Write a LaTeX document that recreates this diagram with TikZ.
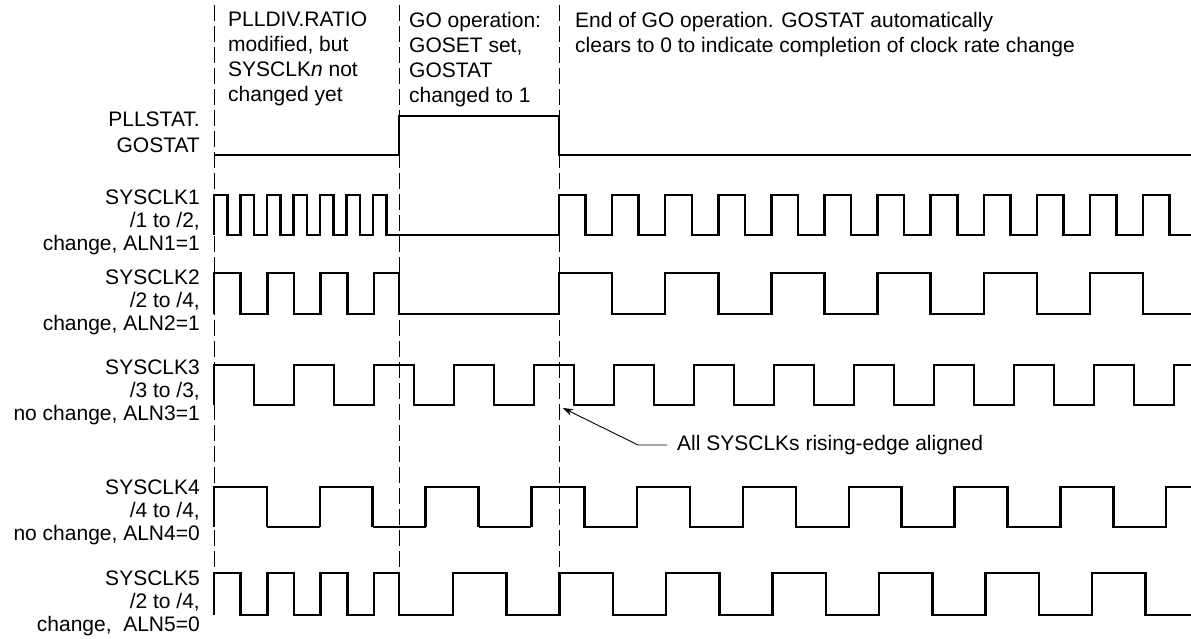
\documentclass[tikz,border=0pt]{standalone}
\usepackage{fontspec}
\setmainfont{Liberation Sans}
\usetikzlibrary{arrows.meta}
\begin{document}
\begin{tikzpicture}[x=1pt,y=-1pt,
  wave/.style={line width=2.5pt, line join=miter},
  thinwave/.style={line width=1.3pt},
  guide/.style={line width=1pt, dash pattern=on 16pt off 5pt},
  lbl/.style={font=\fontsize{21}{23}\selectfont, align=right, anchor=north east, inner sep=0pt},
  note/.style={font=\fontsize{21}{25}\selectfont, align=left, anchor=north west, inner sep=0pt},
  callout/.style={font=\fontsize{21}{23}\selectfont, anchor=west, inner xsep=10pt, inner ysep=0pt},
  leader/.style={line width=0.9pt, -{Stealth[length=10pt,width=7pt]}}]
\useasboundingbox (0,0) rectangle (1191,638);

% guide lines
\foreach \x in {214,399,559} { \draw[guide] (\x,5) -- (\x,615); }

% PLLSTAT.GOSTAT
\draw[wave] (214,155) -- (399,155) -- (399,116) -- (559,116) -- (559,155) -- (1191,155);

% SYSCLK1
\draw[wave] (214,235)
  \foreach \k in {0,...,6}{ -- ({214+26.5*\k},235) -- ({214+26.5*\k},195) -- ({227.25+26.5*\k},195) -- ({227.25+26.5*\k},235) }
  -- (559,235)
  \foreach \k in {0,...,11}{ -- ({559+53.1*\k},235) -- ({559+53.1*\k},195) -- ({585.55+53.1*\k},195) -- ({585.55+53.1*\k},235) }
  -- (1191,235);

% SYSCLK2
\draw[wave] (214,314)
  \foreach \k in {0,...,3}{ -- ({214+53.3*\k},314) -- ({214+53.3*\k},273) -- ({min(240.65+53.3*\k,399)},273) -- ({min(240.65+53.3*\k,399)},314) }
  -- (559,314)
  \foreach \k in {0,...,5}{ -- ({559+106.2*\k},314) -- ({559+106.2*\k},273) -- ({612.1+106.2*\k},273) -- ({612.1+106.2*\k},314) }
  -- (1191,314);

% SYSCLK3
\draw[wave] (214,405)
  \foreach \k in {0,...,11}{ -- ({214+80*\k},405) -- ({214+80*\k},365) -- ({254+80*\k},365) -- ({254+80*\k},405) }
  -- (1174,405) -- (1174,365) -- (1191,365);

% SYSCLK4
\draw[wave] (214,527) -- (214,487) -- (266.9,487) -- (266.9,527)
  (319.8,527) -- (319.8,487) -- (372.7,487) -- (372.7,527)
  (425.6,527) -- (425.6,487) -- (478.5,487) -- (478.5,527)
  (531.4,527) -- (531.4,487) -- (584.3,487) -- (584.3,527)
  \foreach \k in {4,...,8}{ -- ({214+105.8*\k},527) -- ({214+105.8*\k},487) -- ({266.9+105.8*\k},487) -- ({266.9+105.8*\k},527) }
  -- (1166.2,527) -- (1166.2,487) -- (1191,487);
\draw[thinwave] (266.9,527) -- (319.8,527) (372.7,527) -- (425.6,527) (478.5,527) -- (531.4,527);

% SYSCLK5
\draw[wave] (214,615)
  \foreach \k in {0,...,3}{ -- ({214+53.3*\k},615) -- ({214+53.3*\k},573) -- ({min(240.65+53.3*\k,399)},573) -- ({min(240.65+53.3*\k,399)},615) }
  \foreach \k in {0,...,6}{ -- ({453+106.5*\k},615) -- ({453+106.5*\k},573) -- ({506.25+106.5*\k},573) -- ({506.25+106.5*\k},615) }
  -- (1191,615);

% signal labels
\node[lbl] (l0) at (200,112) {PLLSTAT.\\[3pt]GOSTAT};
\node[lbl] (l1) at (200,190) {SYSCLK1\\/1 to /2,\\change, ALN1=1};
\node[lbl] (l2) at (200,270) {SYSCLK2\\/2 to /4,\\change, ALN2=1};
\node[lbl] (l3) at (200,360) {SYSCLK3\\/3 to /3,\\no change, ALN3=1};
\node[lbl] (l4) at (200,480) {SYSCLK4\\/4 to /4,\\no change, ALN4=0};
\node[lbl] (l5) at (200,571) {SYSCLK5\\/2 to /4,\\change,~ ALN5=0};

% top notes
\node[note] (t1) at (228,12) {PLLDIV.RATIO\\modified, but\\SYSCLK\textit{n} not\\changed yet};
\node[note] (t2) at (409,12) {GO operation:\\GOSET set,\\GOSTAT\\changed to 1};
\node[note] (t3) at (575,12) {End of GO operation. GOSTAT automatically\\clears to 0 to indicate completion of clock rate change};

% callout
\node[callout] (al) at (667,445) {All SYSCLKs rising-edge aligned};
\coordinate (kn) at (638,445);
\coordinate (tip) at (563,408);
\draw[leader] (al.west) -- (kn) -- (tip);
\end{tikzpicture}
\end{document}
